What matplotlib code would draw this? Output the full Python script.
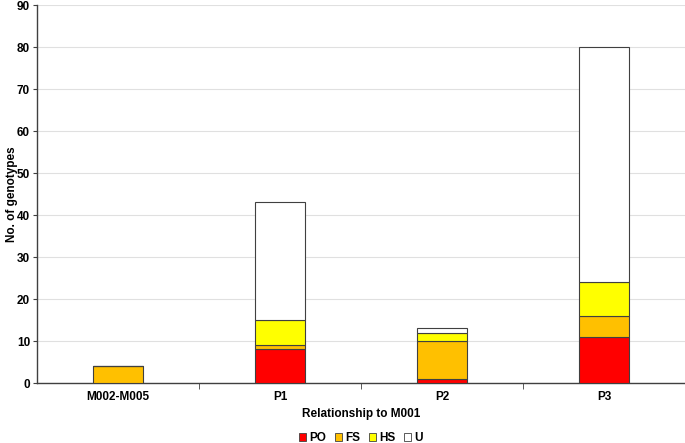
import matplotlib
matplotlib.use("Agg")
import matplotlib.pyplot as plt
import numpy as np
from matplotlib.patches import Patch

plt.rcParams['font.family'] = ['Liberation Sans', 'DejaVu Sans']
plt.rcParams['font.weight'] = 'bold'

categories = ["M002-M005", "P1", "P2", "P3"]
series_names = ["PO", "FS", "HS", "U"]
PO = [0, 8, 1, 11]
FS = [4, 1, 9, 5]
HS = [0, 6, 2, 8]
U = [0, 28, 1, 56]
colors = ["#ff0000", "#ffc000", "#ffff00", "#ffffff"]

fig = plt.figure(figsize=(6.85, 4.43), dpi=100)
ax = fig.add_axes([0.054, 0.1354, 0.946, 0.8533])

x = np.arange(len(categories))
bottom = np.zeros(len(categories))
for name, vals, c in zip(series_names, [PO, FS, HS, U], colors):
    vals = np.array(vals, dtype=float)
    ax.bar(x, vals, 0.31, bottom=bottom, color=c, edgecolor="#404040",
           linewidth=0.8, zorder=3)
    bottom += vals

ax.set_xlim(-0.5, len(categories) - 0.5)
ax.set_ylim(0, 90)
ax.set_yticks(np.arange(0, 91, 10))
ax.yaxis.grid(True, color="#e0e0e0", linewidth=0.8, zorder=0)
ax.set_xticks(x)
ax.set_xticklabels(categories, fontsize=8.5, fontweight="bold")
ax.tick_params(axis="x", length=0, pad=6)
ax.set_xticks(np.arange(0.5, len(categories) - 1, 1), minor=True)
ax.tick_params(axis="x", which="minor", length=4, direction="out", color="#404040")
ax.tick_params(axis="y", labelsize=8.5, length=3, direction="out", color="#404040", pad=2)
for lab in ax.get_yticklabels():
    lab.set_fontweight("bold")
for s in ["top", "right"]:
    ax.spines[s].set_visible(False)
for s in ["left", "bottom"]:
    ax.spines[s].set_color("#404040")
    ax.spines[s].set_linewidth(1.0)

ax.set_xlabel("Relationship to M001", fontsize=8.5, fontweight="bold", labelpad=3)
ax.set_ylabel("No. of genotypes", fontsize=8.5, fontweight="bold")
ax.yaxis.set_label_coords(-0.029, 0.5)

handles = [Patch(facecolor=c, edgecolor="#404040", linewidth=0.6) for c in colors]
ax.legend(handles, series_names, loc="lower center", ncol=4, frameon=False,
          prop={"weight": "bold", "size": 8.5},
          handlelength=0.6, handleheight=0.6, handletextpad=0.3,
          columnspacing=0.7, bbox_to_anchor=(0.5, -0.19))

fig.savefig("out.png", dpi=100)
